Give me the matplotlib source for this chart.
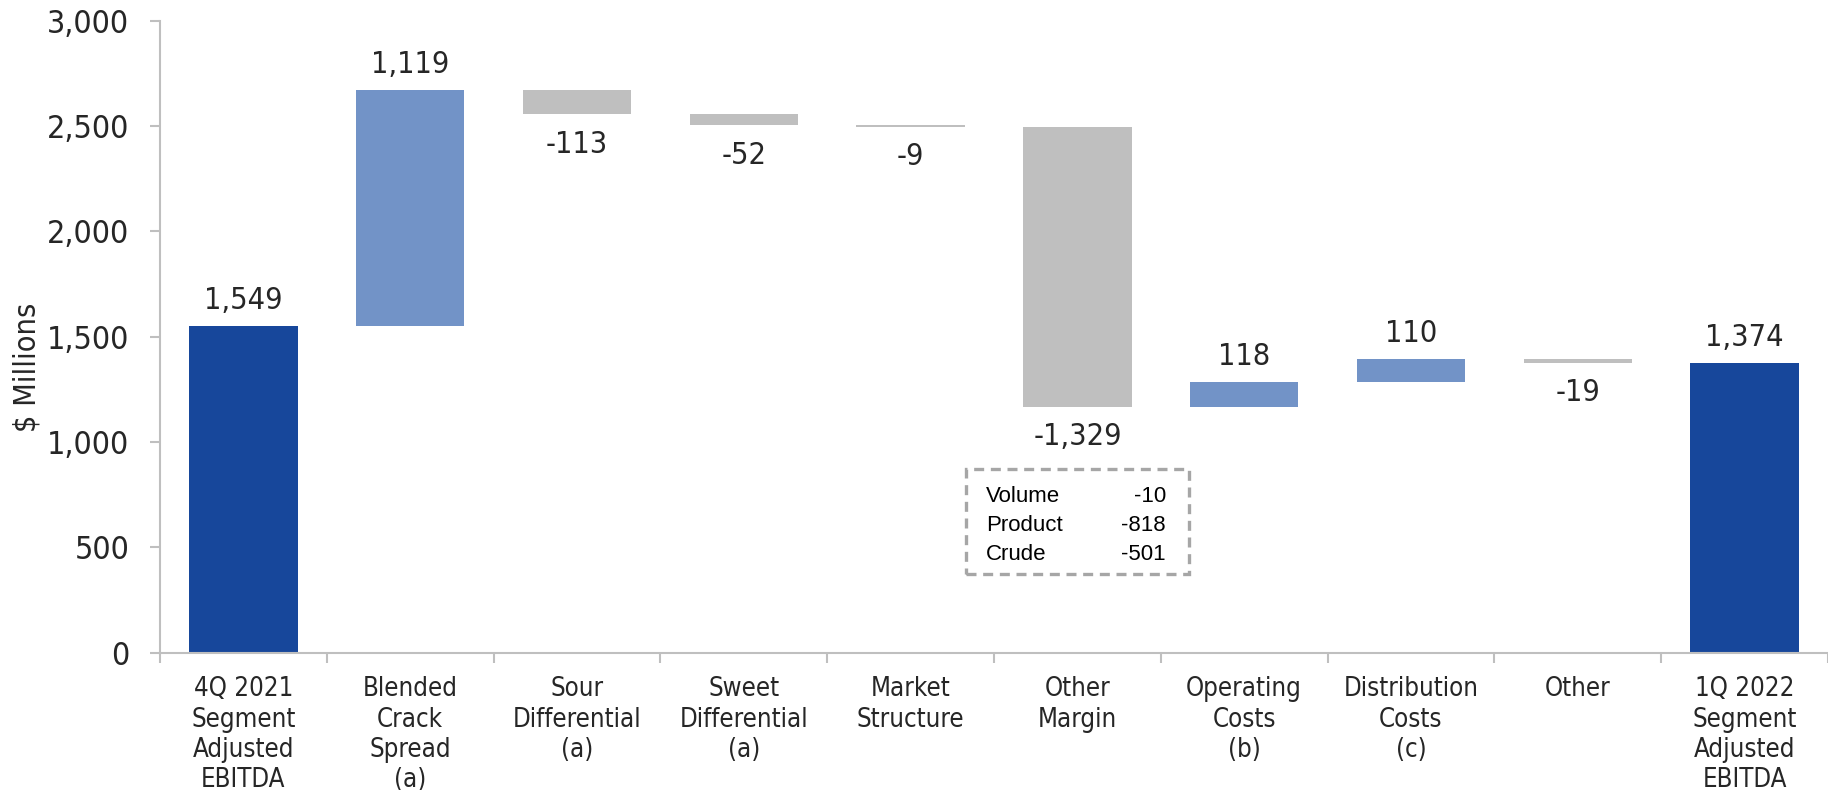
import numpy as np
import matplotlib
matplotlib.use("agg")
from matplotlib import pyplot as plt
from matplotlib.patches import Rectangle


# =============================================================================
# Data
# =============================================================================
categories = ['4Q 2021\nSegment\nAdjusted\nEBITDA', 'Blended\nCrack\nSpread\n(a)',
    'Sour\nDifferential\n(a)', 'Sweet\nDifferential\n(a)', 'Market\nStructure',
    'Other\nMargin', 'Operating\nCosts\n(b)', 'Distribution\nCosts\n(c)',
    'Other', '1Q 2022\nSegment\nAdjusted\nEBITDA']
values = [1549, 1119, -113, -52, -9, -1329, 118, 110, -19, 1374]
is_total = [True, False, False, False, False, False, False, False, False, True]

breakdown_names = ['Volume', 'Product', 'Crude']
breakdown_values = [-10, -818, -501]


# =============================================================================
# Plot parameters
# =============================================================================
fontsize = 22
plt.rcParams['font.family'] = ['DejaVu Sans']
plt.rcParams['font.stretch'] = 'condensed'
plt.rcParams['font.size'] = fontsize
col_total = '#17479b'
col_up = '#7293c7'
col_down = '#bfbfbf'
col_axis = '#bfbfbf'
text_col = '#262626'


# =============================================================================
# Waterfall bottoms and heights
# =============================================================================
bottoms = []
heights = []
colors = []
running = 0
for v, tot in zip(values, is_total):
    if tot:
        bottoms.append(0)
        heights.append(v)
        colors.append(col_total)
        running = v
    else:
        if v >= 0:
            bottoms.append(running)
            colors.append(col_up)
        else:
            bottoms.append(running + v)
            colors.append(col_down)
        heights.append(abs(v))
        running += v


# =============================================================================
# Plot
# =============================================================================
fig = plt.figure(figsize=(18.28, 7.9), dpi=100)
ax = fig.add_axes([0.0875, 0.174, 0.9125, 0.8])

x = np.arange(len(values))
ax.bar(x, heights, bottom=bottoms, width=0.65, color=colors, zorder=2)

# Value labels above rising bars and below falling bars
for i, v in enumerate(values):
    label = f'{v:,}'
    if v >= 0:
        ax.annotate(label, (x[i], bottoms[i] + heights[i]), xytext=(0, 8),
            textcoords='offset points', ha='center', va='bottom',
            fontsize=fontsize, color=text_col)
    else:
        ax.annotate(label, (x[i], bottoms[i]), xytext=(0, -11),
            textcoords='offset points', ha='center', va='top',
            fontsize=fontsize, color=text_col)

# Dashed breakdown box for the Other Margin bar
box = Rectangle((4.33, 372), 1.34, 499, fill=False, edgecolor='#a6a6a6',
    linewidth=2.4, linestyle=(0, (3, 2)), zorder=3, clip_on=False)
ax.add_patch(box)
box_font = ['Liberation Sans', 'DejaVu Sans']
for r, (name, val) in enumerate(zip(breakdown_names, breakdown_values)):
    yy = 741 - r * 138
    ax.text(4.45, yy, name, ha='left', va='center', fontsize=16,
        family=box_font, stretch='normal', color='black')
    ax.text(5.53, yy, f'{val}', ha='right', va='center', fontsize=16,
        family=box_font, stretch='normal', color='black')

# y-axis parameters
ax.set_ylim(0, 3000)
ax.set_yticks(np.arange(0, 3001, 500))
ax.yaxis.set_major_formatter(matplotlib.ticker.StrMethodFormatter('{x:,.0f}'))
ax.set_ylabel('$ Millions', fontsize=fontsize, color=text_col)
ax.yaxis.set_label_coords(-0.071, 0.452)
ax.tick_params(axis='y', colors=col_axis, labelcolor=text_col, length=7,
    width=1.5, labelsize=23, pad=15)

# x-axis parameters
ax.set_xlim(-0.5, len(values) - 0.5)
ax.set_xticks(x)
ax.set_xticklabels(categories, fontsize=18.5, color=text_col,
    linespacing=1.22)
ax.set_xticks(np.arange(-0.5, len(values) - 0.4, 1), minor=True)
ax.tick_params(axis='x', which='major', length=0, pad=17)
ax.tick_params(axis='x', which='minor', length=7, width=1.5, colors=col_axis)

for side in ['top', 'right']:
    ax.spines[side].set_visible(False)
for side in ['left', 'bottom']:
    ax.spines[side].set_color(col_axis)
    ax.spines[side].set_linewidth(1.5)

fig.savefig('out.png', dpi=100)
plt.close()
